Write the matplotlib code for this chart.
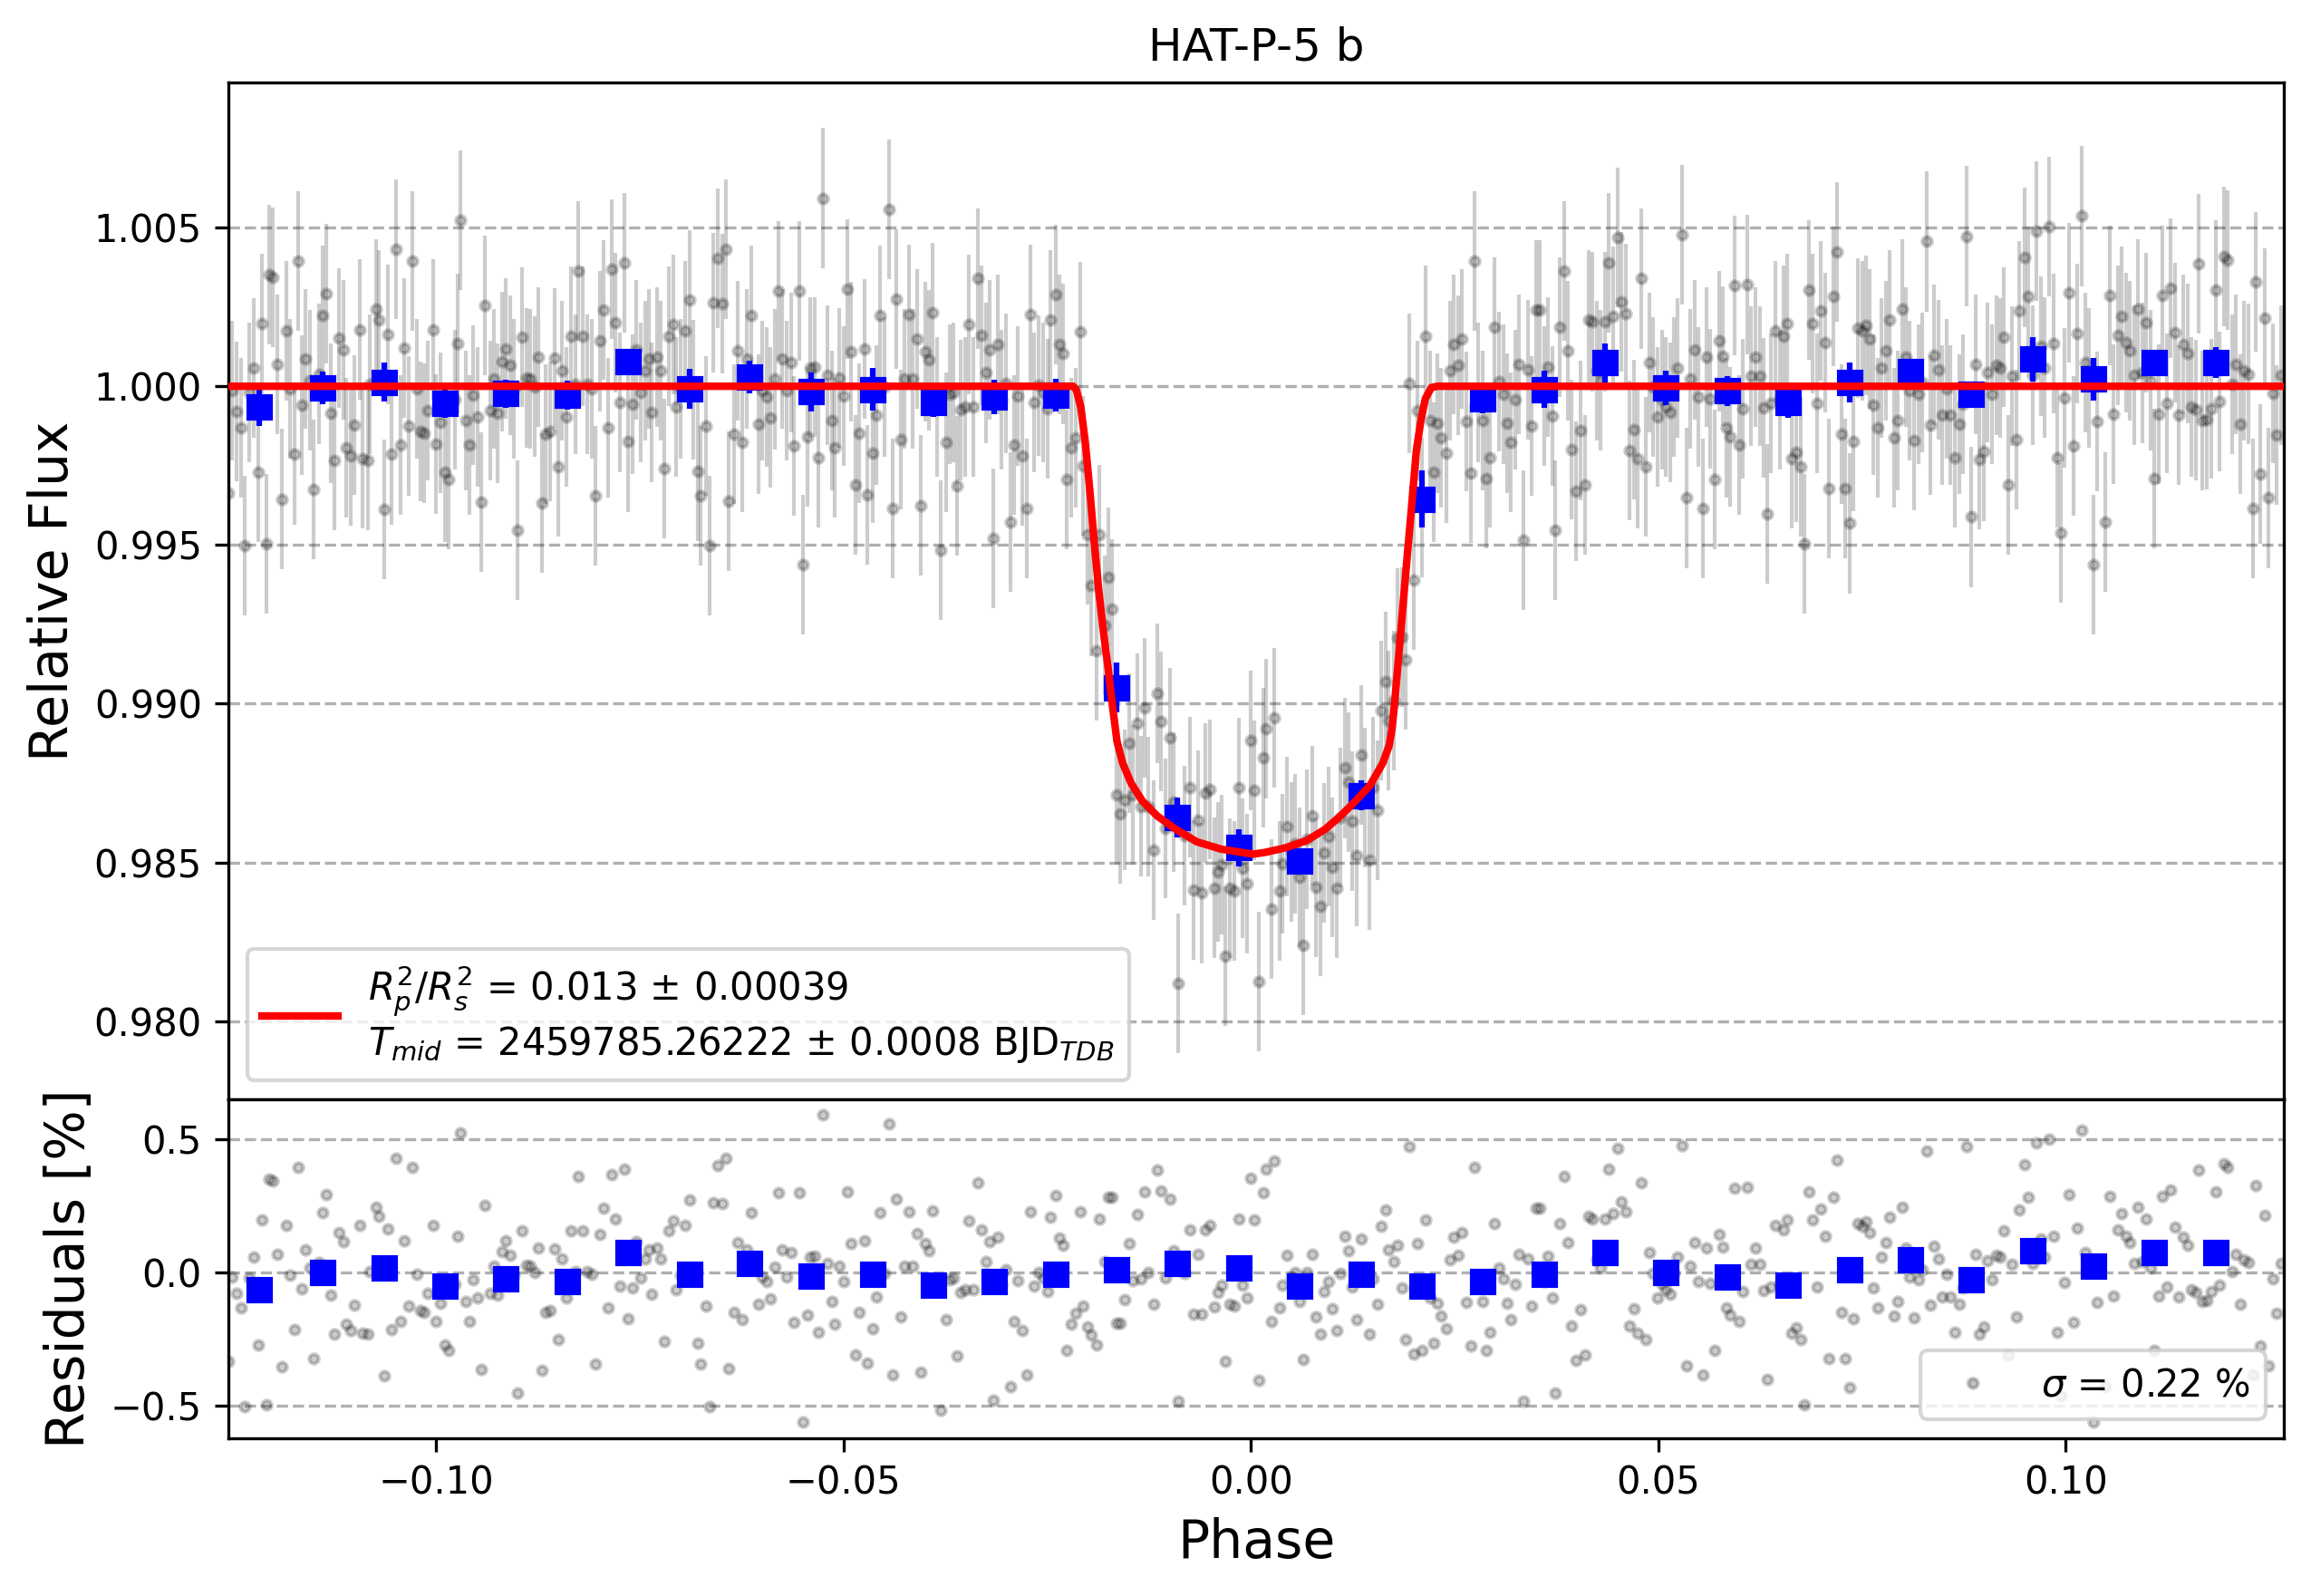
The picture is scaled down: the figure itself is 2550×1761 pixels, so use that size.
import matplotlib
matplotlib.use('Agg')
import matplotlib.pyplot as plt
from matplotlib.ticker import FormatStrFormatter

# ---------------- data ----------------
phase = [
    -0.12549, -0.12500, -0.12447, -0.12389, -0.12344, -0.12294, -0.12241, -0.12187,
    -0.12138, -0.12084, -0.12047, -0.12002, -0.11945, -0.11891, -0.11842, -0.11796,
    -0.11739, -0.11698, -0.11644, -0.11599, -0.11549, -0.11500, -0.11438, -0.11397,
    -0.11344, -0.11298, -0.11245, -0.11196, -0.11142, -0.11101, -0.11047, -0.10998,
    -0.10940, -0.10899, -0.10842, -0.10809, -0.10739, -0.10698, -0.10640, -0.10595,
    -0.10545, -0.10492, -0.10438, -0.10397, -0.10340, -0.10294, -0.10241, -0.10196,
    -0.10142, -0.10101, -0.10039, -0.09998, -0.09945, -0.09895, -0.09846, -0.09772,
    -0.09739, -0.09698, -0.09640, -0.09595, -0.09541, -0.09496, -0.09442, -0.09401,
    -0.09340, -0.09294, -0.09245, -0.09196, -0.09150, -0.09093, -0.09047, -0.08998,
    -0.08949, -0.08887, -0.08846, -0.08792, -0.08751, -0.08698, -0.08652, -0.08599,
    -0.08549, -0.08496, -0.08451, -0.08397, -0.08344, -0.08290, -0.08253, -0.08196,
    -0.08146, -0.08093, -0.08047, -0.07994, -0.07949, -0.07891, -0.07850, -0.07796,
    -0.07747, -0.07693, -0.07648, -0.07591, -0.07549, -0.07488, -0.07438, -0.07393,
    -0.07352, -0.07290, -0.07241, -0.07195, -0.07146, -0.07093, -0.07051, -0.06994,
    -0.06944, -0.06891, -0.06842, -0.06792, -0.06751, -0.06693, -0.06648, -0.06595,
    -0.06549, -0.06492, -0.06447, -0.06405, -0.06348, -0.06302, -0.06245, -0.06191,
    -0.06130,
    -0.06046, -0.05997, -0.05948, -0.05902, -0.05845, -0.05799, -0.05750, -0.05701,
    -0.05647, -0.05606, -0.05548, -0.05503, -0.05446, -0.05413, -0.05355, -0.05306,
    -0.05248, -0.05199, -0.05145, -0.05104, -0.05050, -0.05001, -0.04948, -0.04906,
    -0.04849, -0.04804, -0.04746, -0.04705, -0.04647, -0.04602, -0.04548, -0.04495,
    -0.04446, -0.04400, -0.04351, -0.04302, -0.04248, -0.04199, -0.04153, -0.04100,
    -0.04050, -0.03997, -0.03948, -0.03902, -0.03849, -0.03804, -0.03746, -0.03701,
    -0.03651, -0.03602, -0.03561, -0.03507, -0.03458, -0.03404, -0.03355, -0.03302,
    -0.03256, -0.03203, -0.03157, -0.03104, -0.03063, -0.03005, -0.02956, -0.02902,
    -0.02857, -0.02804, -0.02754, -0.02701, -0.02660, -0.02602, -0.02553, -0.02499,
    -0.02458, -0.02400, -0.02355, -0.02302, -0.02256,
    -0.02203, -0.02153, -0.02100, -0.02059, -0.02001, -0.01956, -0.01898, -0.01857,
    -0.01799, -0.01754, -0.01709, -0.01655, -0.01606, -0.01553, -0.01499, -0.01454,
    -0.01396, -0.01351, -0.01302, -0.01256, -0.01195, -0.01153, -0.01100, -0.01050,
    -0.00997, -0.00948, -0.00894, -0.00812, -0.00754, -0.00701, -0.00647, -0.00606,
    -0.00557, -0.00503, -0.00454, -0.00409, -0.00359, -0.00310, -0.00256, -0.00203,
    -0.00153, -0.00104, -0.00050, -0.00001, 0.00044, 0.00094, 0.00148, 0.00189,
    0.00247, 0.00288, 0.00350, 0.00391, 0.00444, 0.00494, 0.00543, 0.00597,
    0.00646, 0.00691, 0.00749, 0.00794, 0.00852, 0.00893, 0.00951, 0.00992,
    0.01049, 0.01095, 0.01152, 0.01193, 0.01247, 0.01296, 0.01350, 0.01399,
    0.01449, 0.01502, 0.01551, 0.01597, 0.01650, 0.01687, 0.01749, 0.01798,
    0.01852, 0.01893, 0.01942, 0.01996, 0.02041, 0.02099, 0.02140, 0.02193,
    0.02243,
    0.02292, 0.02337, 0.02395, 0.02440, 0.02490, 0.02543, 0.02593, 0.02642,
    0.02695, 0.02745, 0.02790, 0.02840, 0.02893, 0.02938, 0.02992, 0.03045,
    0.03095, 0.03140, 0.03193, 0.03239, 0.03292, 0.03342, 0.03395, 0.03444,
    0.03498, 0.03547, 0.03601, 0.03642, 0.03695, 0.03737, 0.03794, 0.03840,
    0.03893, 0.03938, 0.03992, 0.04045, 0.04095, 0.04144, 0.04189, 0.04247,
    0.04292, 0.04342, 0.04395, 0.04444, 0.04498, 0.04547, 0.04601, 0.04642,
    0.04700, 0.04745, 0.04786, 0.04844, 0.04889, 0.04938, 0.04988, 0.05041,
    0.05091, 0.05144, 0.05193, 0.05239, 0.05288, 0.05342, 0.05391, 0.05444,
    0.05494, 0.05547, 0.05588, 0.05638, 0.05687, 0.05749, 0.05790, 0.05835,
    0.05885, 0.05938, 0.05988, 0.06041, 0.06091, 0.06140, 0.06193, 0.06243,
    0.06288, 0.06337, 0.06379,
    0.06441, 0.06491, 0.06540, 0.06581, 0.06635, 0.06688, 0.06746, 0.06787,
    0.06849, 0.06890, 0.06943, 0.06993, 0.07046, 0.07096, 0.07149, 0.07190,
    0.07244, 0.07293, 0.07347, 0.07392, 0.07450, 0.07499, 0.07548, 0.07594,
    0.07635, 0.07692, 0.07738, 0.07791, 0.07836, 0.07890, 0.07939, 0.07993,
    0.08042, 0.08087, 0.08137, 0.08190, 0.08240, 0.08289, 0.08334, 0.08384,
    0.08433, 0.08487, 0.08536, 0.08585, 0.08639, 0.08692, 0.08742, 0.08787,
    0.08836, 0.08890, 0.08939, 0.08993, 0.09042, 0.09092, 0.09145, 0.09194,
    0.09236, 0.09289, 0.09338, 0.09392, 0.09433, 0.09491, 0.09536, 0.09590,
    0.09639, 0.09692, 0.09742, 0.09791, 0.09845, 0.09894, 0.09939, 0.09989,
    0.10038, 0.10092, 0.10141, 0.10194, 0.10244, 0.10289, 0.10338, 0.10384,
    0.10483, 0.10536, 0.10585, 0.10639, 0.10688, 0.10738, 0.10783, 0.10836,
    0.10886, 0.10935, 0.10985, 0.11038, 0.11083, 0.11141, 0.11182, 0.11240,
    0.11285, 0.11338, 0.11388, 0.11437, 0.11491, 0.11540, 0.11594, 0.11635,
    0.11676, 0.11729, 0.11783, 0.11841, 0.11890, 0.11943, 0.11985, 0.12038,
    0.12087, 0.12137, 0.12190, 0.12240, 0.12293, 0.12334, 0.12388, 0.12437,
    0.12491, 0.12540, 0.12581, 0.12643,
]

flux = [
    0.99665, 0.99985, 0.99921, 0.99869, 0.99497, 0.99980, 1.00057, 0.99728,
    1.00198, 0.99503, 1.00351, 1.00343, 1.00070, 0.99645, 1.00176, 0.99991,
    0.99785, 1.00394, 0.99940, 1.00087, 1.00019, 0.99675, 1.00039, 1.00224,
    1.00292, 0.99915, 0.99767, 1.00152, 1.00115, 0.99807, 0.99781, 0.99877,
    1.00179, 0.99773, 0.99767, 1.00005, 1.00244, 1.00210, 0.99611, 1.00163,
    0.99785, 1.00431, 0.99815, 1.00121, 0.99874, 1.00394, 0.99993, 0.99858,
    0.99852, 0.99923, 1.00179, 0.99818, 0.99885, 0.99728, 0.99707, 0.99957,
    1.00135, 1.00524, 0.99892, 0.99815, 0.99972, 0.99904, 0.99635, 1.00254,
    0.99923, 1.00023, 0.99915, 1.00078, 1.00119, 1.00065, 0.99991, 0.99546,
    1.00156, 1.00027, 1.00023, 0.99999, 1.00092, 0.99631, 0.99849, 0.99858,
    1.00090, 0.99747, 1.00050, 0.99904, 1.00157, 1.00005, 1.00363, 1.00157,
    1.00005, 0.99993, 0.99655, 1.00142, 1.00241, 0.99869, 1.00370, 1.00200,
    0.99950, 1.00390, 0.99825, 0.99943, 1.00116, 0.99980, 1.00050, 1.00087,
    0.99917, 1.00093, 1.00050, 0.99741, 1.00157, 1.00195, 0.99934, 0.99991,
    1.00176, 1.00272, 0.99990, 0.99733, 0.99655, 0.99874, 0.99497, 1.00264,
    1.00402, 1.00261, 1.00431, 0.99639, 0.99849, 1.00112, 0.99823, 1.00087,
    1.00224,
    0.99880, 0.99985, 0.99966, 0.99902, 1.00022, 1.00300, 1.00087, 0.99985,
    1.00074, 0.99812, 1.00300, 0.99438, 0.99841, 1.00059, 1.00061, 0.99775,
    1.00593, 1.00036, 0.99891, 0.99806, 1.00025, 0.99968, 1.00305, 1.00108,
    0.99689, 0.99852, 1.00118, 0.99659, 0.99789, 0.99908, 1.00224, 0.99997,
    1.00558, 0.99614, 1.00275, 0.99832, 1.00023, 1.00227, 1.00023, 1.00148,
    0.99625, 1.00110, 1.00082, 1.00232, 0.99934, 0.99484, 0.99823, 0.99974,
    0.99980, 0.99687, 0.99925, 0.99934, 1.00195, 0.99936, 1.00339, 1.00161,
    1.00042, 1.00116, 0.99520, 1.00133, 0.99957, 1.00010, 0.99571, 0.99815,
    0.99970, 0.99781, 0.99616, 1.00227, 0.99948, 1.00002, 0.99980, 0.99928,
    1.00209, 1.00289, 1.00131, 1.00102, 0.99707,
    0.99807, 0.99838, 1.00173, 0.99750, 0.99532, 0.99371, 0.99167, 0.99533,
    0.99246, 0.99398, 0.99298, 0.98712, 0.98653, 0.98697, 0.98875, 0.98712,
    0.98939, 0.98677, 0.98988, 0.98675, 0.98539, 0.99032, 0.98943, 0.98608,
    0.98893, 0.98691, 0.98118, 0.98584, 0.98737, 0.98413, 0.98633, 0.98403,
    0.98718, 0.98730, 0.98420, 0.98470, 0.98492, 0.98204, 0.98418, 0.98410,
    0.98736, 0.98482, 0.98433, 0.98884, 0.98727, 0.98124, 0.98831, 0.98920,
    0.98353, 0.98956, 0.98410, 0.98495, 0.98613, 0.98532, 0.98558, 0.98452,
    0.98238, 0.98572, 0.98647, 0.98421, 0.98362, 0.98529, 0.98581, 0.98485,
    0.98419, 0.98642, 0.98797, 0.98752, 0.98630, 0.98520, 0.98839, 0.98705,
    0.98506, 0.98737, 0.98663, 0.98977, 0.99070, 0.98946, 0.99009, 0.99207,
    0.99210, 0.99138, 1.00009, 0.99390, 0.99923, 0.99618, 1.00159, 0.99892,
    0.99730,
    0.99883, 0.99838, 0.99789, 1.00048, 1.00133, 1.00065, 1.00150, 0.99889,
    0.99726, 1.00394, 0.99980, 0.99891, 0.99709, 0.99775, 1.00186, 1.00016,
    0.99976, 0.99883, 0.99824, 0.99957, 1.00070, 0.99516, 1.00051, 0.99874,
    1.00241, 1.00241, 0.99968, 1.00061, 0.99906, 0.99546, 1.00186, 1.00363,
    1.00112, 0.99801, 0.99670, 0.99860, 0.99690, 1.00210, 1.00203, 1.00048,
    1.00019, 1.00203, 1.00388, 1.00221, 1.00468, 1.00266, 1.00229, 0.99798,
    0.99863, 0.99773, 1.00339, 0.99747, 1.00074, 0.99997, 0.99904, 0.99957,
    0.99936, 0.99917, 0.99997, 1.00057, 1.00477, 0.99648, 1.00023, 1.00114,
    0.99966, 0.99616, 1.00093, 0.99960, 0.99707, 1.00142, 1.00095, 0.99869,
    0.99841, 1.00318, 0.99815, 0.99928, 1.00320, 1.00031, 1.00093, 1.00031,
    0.99931, 0.99599, 0.99946,
    1.00176, 0.99957, 1.00159, 1.00198, 0.99772, 0.99792, 0.99747, 0.99503,
    1.00302, 1.00198, 0.99946, 1.00238, 1.00138, 0.99677, 1.00283, 1.00422,
    0.99849, 0.99677, 0.99568, 0.99826, 1.00184, 1.00175, 1.00192, 1.00150,
    0.99942, 0.99869, 1.00057, 1.00112, 1.00209, 0.99838, 0.99891, 1.00244,
    1.00093, 0.99985, 0.99829, 0.99974, 1.00011, 1.00456, 0.99877, 1.00099,
    1.00053, 0.99908, 0.99993, 0.99909, 0.99775, 0.99880, 0.99943, 1.00473,
    0.99588, 1.00068, 0.99770, 0.99796, 1.00044, 0.99974, 1.00065, 1.00057,
    1.00156, 0.99690, 1.00031, 0.99832, 1.00237, 1.00405, 1.00283, 1.00036,
    1.00488, 1.00127, 1.00059, 1.00502, 1.00136, 0.99775, 0.99537, 0.99963,
    1.00295, 0.99813, 1.00167, 1.00536, 1.00076, 1.00025, 0.99438, 0.99889,
    0.99571, 1.00286, 0.99911, 1.00161, 1.00221, 1.00138, 1.00112, 1.00036,
    1.00244, 1.00042, 1.00201, 1.00019, 0.99709, 0.99911, 1.00286, 0.99946,
    1.00309, 1.00170, 0.99908, 1.00133, 1.00104, 0.99934, 0.99925, 1.00385,
    0.99891, 0.99895, 0.99928, 1.00303, 0.99951, 1.00409, 1.00397, 1.00005,
    1.00070, 0.99880, 1.00048, 1.00039, 0.99614, 1.00329, 0.99724, 1.00215,
    0.99648, 0.99977, 0.99847, 1.00036,
]

resid = [
    -0.335, -0.015, -0.079, -0.131, -0.503, -0.020, 0.057, -0.272,
    0.198, -0.497, 0.351, 0.343, 0.070, -0.355, 0.176, -0.009,
    -0.215, 0.394, -0.060, 0.087, 0.019, -0.325, 0.039, 0.224,
    0.292, -0.085, -0.233, 0.152, 0.115, -0.193, -0.219, -0.123,
    0.179, -0.227, -0.233, 0.005, 0.244, 0.210, -0.389, 0.163,
    -0.215, 0.431, -0.185, 0.121, -0.126, 0.394, -0.007, -0.142,
    -0.148, -0.077, 0.179, -0.182, -0.115, -0.272, -0.293, -0.043,
    0.135, 0.524, -0.108, -0.185, -0.028, -0.096, -0.365, 0.254,
    -0.077, 0.023, -0.085, 0.078, 0.119, 0.065, -0.009, -0.454,
    0.156, 0.027, 0.023, -0.001, 0.092, -0.369, -0.151, -0.142,
    0.090, -0.253, 0.050, -0.096, 0.157, 0.005, 0.363, 0.157,
    0.005, -0.007, -0.345, 0.142, 0.241, -0.131, 0.370, 0.200,
    -0.050, 0.390, -0.175, -0.057, 0.116, -0.020, 0.050, 0.087,
    -0.083, 0.093, 0.050, -0.259, 0.157, 0.195, -0.066, -0.009,
    0.176, 0.272, -0.010, -0.267, -0.345, -0.126, -0.503, 0.264,
    0.402, 0.261, 0.431, -0.361, -0.151, 0.112, -0.177, 0.087,
    0.224,
    -0.120, -0.015, -0.034, -0.098, 0.022, 0.300, 0.087, -0.015,
    0.074, -0.188, 0.300, -0.562, -0.159, 0.059, 0.061, -0.225,
    0.593, 0.036, -0.109, -0.194, 0.025, -0.032, 0.305, 0.108,
    -0.311, -0.148, 0.118, -0.341, -0.211, -0.092, 0.224, -0.003,
    0.558, -0.386, 0.275, -0.168, 0.023, 0.227, 0.023, 0.148,
    -0.375, 0.110, 0.082, 0.232, -0.066, -0.516, -0.177, -0.026,
    -0.020, -0.313, -0.075, -0.066, 0.195, -0.064, 0.339, 0.161,
    0.042, 0.116, -0.480, 0.133, -0.043, 0.010, -0.429, -0.185,
    -0.030, -0.219, -0.384, 0.227, -0.052, 0.002, -0.020, -0.072,
    0.209, 0.289, 0.131, 0.102, -0.293,
    -0.193, -0.154, 0.227, -0.125, -0.204, -0.236, -0.272, 0.201,
    0.042, 0.284, 0.284, -0.191, -0.191, -0.102, 0.108, -0.030,
    0.220, -0.024, 0.303, 0.002, -0.119, 0.385, 0.306, -0.020,
    0.275, 0.082, -0.482, -0.003, 0.159, -0.157, 0.070, -0.157,
    0.161, 0.178, -0.128, -0.075, -0.049, -0.335, -0.119, -0.125,
    0.203, -0.049, -0.096, 0.356, 0.198, -0.406, 0.300, 0.388,
    -0.182, 0.419, -0.131, -0.049, 0.065, -0.020, 0.002, -0.109,
    -0.327, 0.002, 0.068, -0.165, -0.233, -0.072, -0.032, -0.137,
    -0.216, -0.003, 0.136, 0.082, -0.054, -0.177, 0.127, -0.020,
    -0.233, -0.024, -0.120, 0.173, 0.234, 0.084, 0.042, 0.101,
    -0.058, -0.253, 0.473, -0.306, 0.108, -0.291, 0.198, -0.094,
    -0.267,
    -0.117, -0.162, -0.211, 0.048, 0.133, 0.065, 0.150, -0.111,
    -0.274, 0.394, -0.020, -0.109, -0.291, -0.225, 0.186, 0.016,
    -0.024, -0.117, -0.176, -0.043, 0.070, -0.484, 0.051, -0.126,
    0.241, 0.241, -0.032, 0.061, -0.094, -0.454, 0.186, 0.363,
    0.112, -0.199, -0.330, -0.140, -0.310, 0.210, 0.203, 0.048,
    0.019, 0.203, 0.388, 0.221, 0.468, 0.266, 0.229, -0.202,
    -0.137, -0.227, 0.339, -0.253, 0.074, -0.003, -0.096, -0.043,
    -0.064, -0.083, -0.003, 0.057, 0.477, -0.352, 0.023, 0.114,
    -0.034, -0.384, 0.093, -0.040, -0.293, 0.142, 0.095, -0.131,
    -0.159, 0.318, -0.185, -0.072, 0.320, 0.031, 0.093, 0.031,
    -0.069, -0.401, -0.054,
    0.176, -0.043, 0.159, 0.198, -0.228, -0.208, -0.253, -0.497,
    0.302, 0.198, -0.054, 0.238, 0.138, -0.323, 0.283, 0.422,
    -0.151, -0.323, -0.432, -0.174, 0.184, 0.175, 0.192, 0.150,
    -0.058, -0.131, 0.057, 0.112, 0.209, -0.162, -0.109, 0.244,
    0.093, -0.015, -0.171, -0.026, 0.011, 0.456, -0.123, 0.099,
    0.053, -0.092, -0.007, -0.091, -0.225, -0.120, -0.057, 0.473,
    -0.412, 0.068, -0.230, -0.204, 0.044, -0.026, 0.065, 0.057,
    0.156, -0.310, 0.031, -0.168, 0.237, 0.405, 0.283, 0.036,
    0.488, 0.127, 0.059, 0.502, 0.136, -0.225, -0.463, -0.037,
    0.295, -0.187, 0.167, 0.536, 0.076, 0.025, -0.562, -0.111,
    -0.429, 0.286, -0.089, 0.161, 0.221, 0.138, 0.112, 0.036,
    0.244, 0.042, 0.201, 0.019, -0.291, -0.089, 0.286, -0.054,
    0.309, 0.170, -0.092, 0.133, 0.104, -0.066, -0.075, 0.385,
    -0.109, -0.105, -0.072, 0.303, -0.049, 0.409, 0.397, 0.005,
    0.070, -0.120, 0.048, 0.039, -0.386, 0.329, -0.276, 0.215,
    -0.352, -0.023, -0.153, 0.036,
]

flux_err = 0.0022

bin_phase = [-0.12167, -0.11397, -0.10640, -0.09895, -0.09150, -0.08393, -0.07648,
             -0.06891, -0.06150, -0.05400, -0.04643, -0.03898, -0.03153, -0.02396,
             -0.01651, -0.00906, -0.00149, 0.00597, 0.01350, 0.02099, 0.02844,
             0.03597, 0.04346, 0.05091, 0.05844, 0.06590, 0.07347, 0.08096,
             0.08836, 0.09594, 0.10343, 0.11083, 0.11841]
bin_flux = [0.99934, 0.99995, 1.00013, 0.99947, 0.99977, 0.99973, 1.00077,
            0.99993, 1.00030, 0.99982, 0.99990, 0.99950, 0.99966, 0.99973,
            0.99051, 0.98641, 0.98546, 0.98504, 0.98711, 0.99645, 0.99961,
            0.99990, 1.00074, 0.99995, 0.99985, 0.99950, 1.00011, 1.00046,
            0.99974, 1.00085, 1.00022, 1.00075, 1.00074]
bin_err = [0.00060, 0.00052, 0.00061, 0.00046, 0.00044, 0.00046, 0.00042,
           0.00063, 0.00051, 0.00062, 0.00067, 0.00046, 0.00054, 0.00051,
           0.00078, 0.00062, 0.00058, 0.00040, 0.00046, 0.00090, 0.00046,
           0.00059, 0.00062, 0.00053, 0.00048, 0.00048, 0.00063, 0.00040,
           0.00042, 0.00070, 0.00068, 0.00040, 0.00048]
bin_resid = [-0.066, -0.001, 0.016, -0.052, -0.022, -0.032, 0.077,
             -0.005, 0.033, -0.014, -0.008, -0.048, -0.035, -0.008,
             0.012, 0.036, 0.016, -0.052, -0.008, -0.052, -0.032,
             -0.008, 0.074, -0.001, -0.015, -0.049, 0.012, 0.047,
             -0.026, 0.083, 0.023, 0.077, 0.074]

model_phase = [-0.13000, -0.02181, -0.02144, -0.02088, -0.02033, -0.01977, -0.01922,
               -0.01866, -0.01811, -0.01755, -0.01699, -0.01644, -0.01574, -0.01470,
               -0.01335, -0.01150, -0.00927, -0.00667, -0.00371, -0.00111, 0.00028,
               0.00167, 0.00426, 0.00686, 0.00909, 0.01094, 0.01260, 0.01460,
               0.01616, 0.01695, 0.01732, 0.01769, 0.01806, 0.01843, 0.01880,
               0.01917, 0.01955, 0.01992, 0.02029, 0.02085, 0.02140, 0.02214,
               0.02288, 0.13000]
model_flux = [1.00000, 1.00000, 0.99989, 0.99934, 0.99823, 0.99670, 0.99504,
              0.99352, 0.99227, 0.99116, 0.98992, 0.98881, 0.98812, 0.98749,
              0.98694, 0.98646, 0.98605, 0.98565, 0.98542, 0.98531, 0.98526,
              0.98531, 0.98546, 0.98569, 0.98604, 0.98645, 0.98687, 0.98742,
              0.98812, 0.98867, 0.98922, 0.99019, 0.99130, 0.99241, 0.99352,
              0.99463, 0.99573, 0.99684, 0.99795, 0.99892, 0.99961, 0.99996,
              1.00000, 1.00000]

title = 'HAT-P-5 b'
model_label = (r'$R_{p}^{2}/R_{s}^{2}$ = 0.013 ± 0.00039' + '\n'
               + r'$T_{mid}$ = 2459785.26222 ± 0.0008 BJD$_{TDB}$')
resid_label = r'$\sigma$ = 0.22 %'
flux_ticks = [0.980, 0.985, 0.990, 0.995, 1.000, 1.005]
resid_ticks = [-0.5, 0.0, 0.5]
phase_ticks = [-0.10, -0.05, 0.00, 0.05, 0.10]

# ---------------- figure ----------------
fig = plt.figure(figsize=(8.5, 5.87), dpi=300)
gs = fig.add_gridspec(2, 1, height_ratios=[3, 1], hspace=0,
                      left=0.0988, right=0.9884, top=0.9483, bottom=0.0990)
ax1 = fig.add_subplot(gs[0])
ax2 = fig.add_subplot(gs[1], sharex=ax1)

ax1.errorbar(phase, flux, yerr=flux_err, fmt='o', color='k', alpha=0.2,
             ms=2.5, elinewidth=1, zorder=2)
ax1.errorbar(bin_phase, bin_flux, yerr=bin_err, fmt='s', color='blue',
             ms=6, elinewidth=1.5, zorder=3)
ax1.plot(model_phase, model_flux, '-', color='red', lw=2, zorder=4,
         label=model_label)
ax1.legend(loc='lower left', fontsize=10)
ax1.set_ylabel('Relative Flux', fontsize=14)
ax1.set_title(title, fontsize=12)
ax1.grid(axis='y', ls='--')
ax1.set_ylim(0.97754, 1.00957)
ax1.set_yticks(flux_ticks)
ax1.yaxis.set_major_formatter(FormatStrFormatter('%.3f'))
ax1.tick_params(axis='x', which='both', bottom=False, labelbottom=False)

ax2.plot(phase, resid, 'o', color='k', alpha=0.2, ms=2.5, zorder=2,
         label=resid_label)
ax2.plot(bin_phase, bin_resid, 's', color='blue', ms=6, zorder=3)
ax2.legend(loc='lower right', fontsize=10)
ax2.grid(axis='y', ls='--')
ax2.set_ylim(-0.622, 0.652)
ax2.set_yticks(resid_ticks)
ax2.set_xticks(phase_ticks)
ax2.set_xlim(-0.1255, 0.1268)
ax2.set_xlabel('Phase', fontsize=14)
ax2.set_ylabel('Residuals [%]', fontsize=14)

fig.savefig('out.png', dpi=300)
